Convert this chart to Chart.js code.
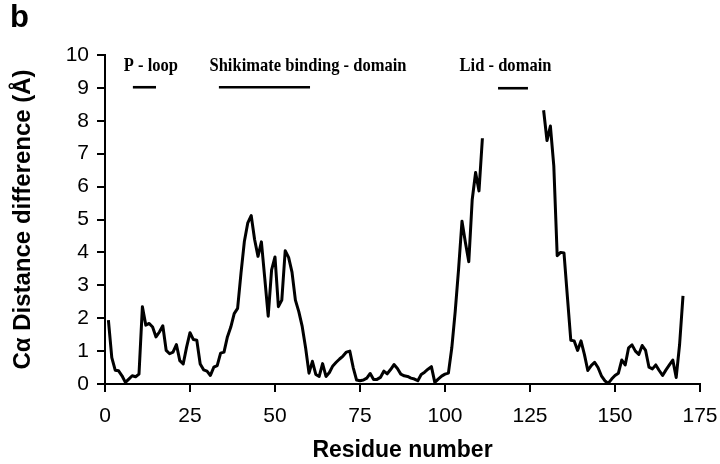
<!DOCTYPE html>
<html>
<head>
<meta charset="utf-8">
<script src="https://cdn.jsdelivr.net/npm/chart.js@4"></script>
<style>
  html, body { margin: 0; padding: 0; background: #fff; }
  #wrap { width: 720px; height: 464px; }
</style>
</head>
<body>
<div id="wrap"><canvas id="distChart" width="720" height="464"></canvas></div>
<script>
// residue numbers and C-alpha distance difference (A); null = no data (gap)
var residues = [1,2,3,4,5,6,7,8,9,10,11,12,13,14,15,16,17,18,19,20,
  21,22,23,24,25,26,27,28,29,30,31,32,33,34,35,36,37,38,39,40,
  41,42,43,44,45,46,47,48,49,50,51,52,53,54,55,56,57,58,59,60,
  61,62,63,64,65,66,67,68,69,70,71,72,73,74,75,76,77,78,79,80,
  81,82,83,84,85,86,87,88,89,90,91,92,93,94,95,96,97,98,99,100,
  101,102,103,104,105,106,107,108,109,110,111,120,
  129,130,131,132,133,134,135,136,137,138,139,140,
  141,142,143,144,145,146,147,148,149,150,151,152,153,154,155,156,157,158,159,160,
  161,162,163,164,165,166,167,168,169,170];
var distances = [1.94,0.8,0.42,0.4,0.25,0.05,0.15,0.25,0.22,0.3,2.35,1.79,1.84,1.73,1.43,1.58,1.77,1.02,0.92,0.97,
  1.2,0.71,0.61,1.12,1.56,1.35,1.33,0.61,0.43,0.39,0.26,0.51,0.56,0.94,0.97,1.43,1.73,2.14,2.3,3.37,
  4.34,4.9,5.12,4.39,3.88,4.32,3.2,2.06,3.47,3.86,2.35,2.55,4.05,3.85,3.4,2.55,2.2,1.75,1.1,0.33,
  0.69,0.29,0.23,0.62,0.23,0.35,0.55,0.66,0.76,0.85,0.97,1.0,0.5,0.12,0.1,0.12,0.18,0.32,0.14,0.14,
  0.2,0.39,0.31,0.44,0.59,0.47,0.3,0.25,0.23,0.18,0.15,0.1,0.29,0.36,0.45,0.53,0.05,0.15,0.24,0.3,
  0.33,1.1,2.2,3.5,4.95,4.3,3.72,5.6,6.43,5.87,7.47,null,
  8.32,7.4,7.84,6.63,3.9,4.0,3.98,2.65,1.33,1.31,1.02,1.31,
  0.9,0.41,0.56,0.66,0.5,0.25,0.1,0.02,0.15,0.26,0.33,0.73,0.58,1.1,1.19,1.0,0.9,1.17,1.02,0.51,
  0.46,0.58,0.41,0.26,0.43,0.58,0.73,0.2,1.2,2.68];

// domain ranges marked above the curve
var domainNames = ['P - loop', 'Shikimate binding - domain', 'Lid - domain'];
var domainStart = [8.2, 33.5, 115.6];
var domainEnd = [15.0, 60.3, 124.4];
var domainLevel = [9.02, 9.02, 8.99];
var labelPos = [13.5, 59.7, 117.8];
var labelLevel = [9.66, 9.66, 9.66];

var xTicks = [0, 25, 50, 75, 100, 125, 150, 175];
var yTicks = [0, 1, 2, 3, 4, 5, 6, 7, 8, 9, 10];

var points = residues.map(function (r, i) { return { x: r, y: distances[i] }; });

var datasets = [{
  data: points,
  borderColor: '#000',
  borderWidth: 3,
  pointRadius: 0,
  tension: 0,
  spanGaps: false,
  borderJoinStyle: 'round'
}];
domainNames.forEach(function (n, i) {
  datasets.push({
    data: [{ x: domainStart[i], y: domainLevel[i] }, { x: domainEnd[i], y: domainLevel[i] }],
    borderColor: '#000',
    borderWidth: 2.6,
    pointRadius: 0
  });
});

var labelsPlugin = {
  id: 'extraText',
  afterDraw: function (chart) {
    var c = chart.ctx;
    var xs = chart.scales.x, ys = chart.scales.y;
    c.save();
    c.fillStyle = '#000';
    c.font = 'bold 31px "Liberation Sans", Arial, sans-serif';
    c.textAlign = 'left';
    c.textBaseline = 'middle';
    c.fillText('b', 10, 18);
    c.font = 'bold 19px "Liberation Serif", "Times New Roman", serif';
    c.textAlign = 'center';
    domainNames.forEach(function (n, i) {
      var px = xs.getPixelForValue(labelPos[i]);
      var py = ys.getPixelForValue(labelLevel[i]);
      c.save();
      c.translate(px, py);
      c.scale(0.87, 1);
      c.fillText(n, 0, 0);
      c.restore();
    });
    c.restore();
  }
};

new Chart(document.getElementById('distChart'), {
  type: 'line',
  data: { datasets: datasets },
  options: {
    responsive: false,
    animation: false,
    events: [],
    layout: { padding: { left: 7, right: 20, top: 55, bottom: 0 } },
    plugins: { legend: { display: false }, tooltip: { enabled: false } },
    scales: {
      x: {
        type: 'linear',
        min: 0, max: 175,
        afterBuildTicks: function (s) { s.ticks = xTicks.map(function (v) { return { value: v }; }); },
        afterFit: function (s) { s.height = 80; s.paddingRight = 0; s.paddingLeft = 0; },
        border: { color: '#000', width: 2 },
        grid: { drawOnChartArea: false, color: '#000', lineWidth: 2, tickLength: 8 },
        ticks: { color: '#000', padding: 12, font: { family: '"Liberation Sans", Arial, sans-serif', size: 21 } },
        title: { display: true, text: 'Residue number', color: '#000', padding: { top: 8, bottom: 0 },
          font: { family: '"Liberation Sans", Arial, sans-serif', size: 23, weight: 'bold' } }
      },
      y: {
        min: 0, max: 10,
        afterBuildTicks: function (s) { s.ticks = yTicks.map(function (v) { return { value: v }; }); },
        afterFit: function (s) { s.width = 98; },
        border: { color: '#000', width: 2 },
        grid: { drawOnChartArea: false, color: '#000', lineWidth: 2, tickLength: 8 },
        ticks: { color: '#000', padding: 8, font: { family: '"Liberation Sans", Arial, sans-serif', size: 21 } },
        title: { display: true, text: 'Cα Distance difference (Å)', color: '#000', padding: { top: 2, bottom: 2 },
          font: { family: '"Liberation Sans", Arial, sans-serif', size: 24, weight: 'bold' } }
      }
    }
  },
  plugins: [labelsPlugin]
});
</script>
</body>
</html>
